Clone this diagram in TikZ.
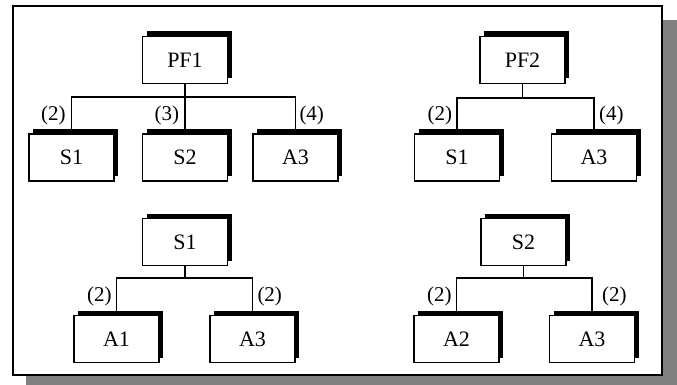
\documentclass[tikz,border=0pt]{standalone}
\usepackage{fontspec}
\setmainfont{Liberation Serif}
\usepackage{tikz}
\usetikzlibrary{positioning, shadows}

\begin{document}
\begin{tikzpicture}[x=1pt, y=-1pt,
    box/.style={draw, fill=white, line width=1.8pt, minimum width=85pt, minimum height=47pt, inner sep=0pt,
        font=\fontsize{22}{24}\selectfont,
        general shadow={fill=black, shadow xshift=4pt, shadow yshift=5pt}},
    num/.style={font=\fontsize{21}{24}\selectfont, inner sep=0pt, outer sep=0pt},
    conn/.style={line width=1.4pt}]
    \useasboundingbox (0,0) rectangle (677,385);
    % frame with grey shadow
    \fill[gray] (26,20) rectangle (677,385);
    \draw[line width=1.8pt, fill=white] (13,6) rectangle (662,375);

    % PF1
    \node[box] (pf1) at (185,60) {PF1};
    \node[box] (s1a) at (71.5,157.5) {S1};
    \node[box] (s2a) at (185,157.5) {S2};
    \node[box] (a3a) at (295.5,157.5) {A3};
    \coordinate (bus1) at (185,97);
    \draw[conn] (pf1) -- (bus1);
    \draw[conn] (bus1) -| node[num, pos=0.75, left=6pt] {(2)} (s1a.north);
    \draw[conn] (bus1) -- node[num, left=6pt] {(3)} (s2a);
    \draw[conn] (bus1) -| node[num, pos=0.75, right=4pt] {(4)} (a3a.north);

    % PF2
    \node[box] (pf2) at (522.5,60) {PF2};
    \node[box] (s1b) at (457,157.5) {S1};
    \node[box] (a3b) at (594,157.5) {A3};
    \coordinate (bus2) at (522.5,98);
    \draw[conn] (pf2) -- (bus2);
    \draw[conn] (bus2) -| node[num, pos=0.75, left=5pt] {(2)} (s1b.north);
    \draw[conn] (bus2) -| node[num, pos=0.75, right=5pt] {(4)} (a3b.north);

    % S1
    \node[box] (s1c) at (185,242) {S1};
    \node[box] (a1c) at (116.5,339) {A1};
    \node[box] (a3c) at (252.5,339) {A3};
    \coordinate (bus3) at (185,278);
    \draw[conn] (s1c) -- (bus3);
    \draw[conn] (bus3) -| node[num, pos=0.75, left=5pt] {(2)} (a1c.north);
    \draw[conn] (bus3) -| node[num, pos=0.75, right=5pt] {(2)} (a3c.north);

    % S2
    \node[box] (s2d) at (523.5,242) {S2};
    \node[box] (a2d) at (456.5,339) {A2};
    \node[box] (a3d) at (592,339) {A3};
    \coordinate (bus4) at (523.5,278);
    \draw[conn] (s2d) -- (bus4);
    \draw[conn] (bus4) -| node[num, pos=0.75, left=5pt] {(2)} (a2d.north);
    \draw[conn] (bus4) -| node[num, pos=0.75, right=10pt] {(2)} (a3d.north);
\end{tikzpicture}
\end{document}
